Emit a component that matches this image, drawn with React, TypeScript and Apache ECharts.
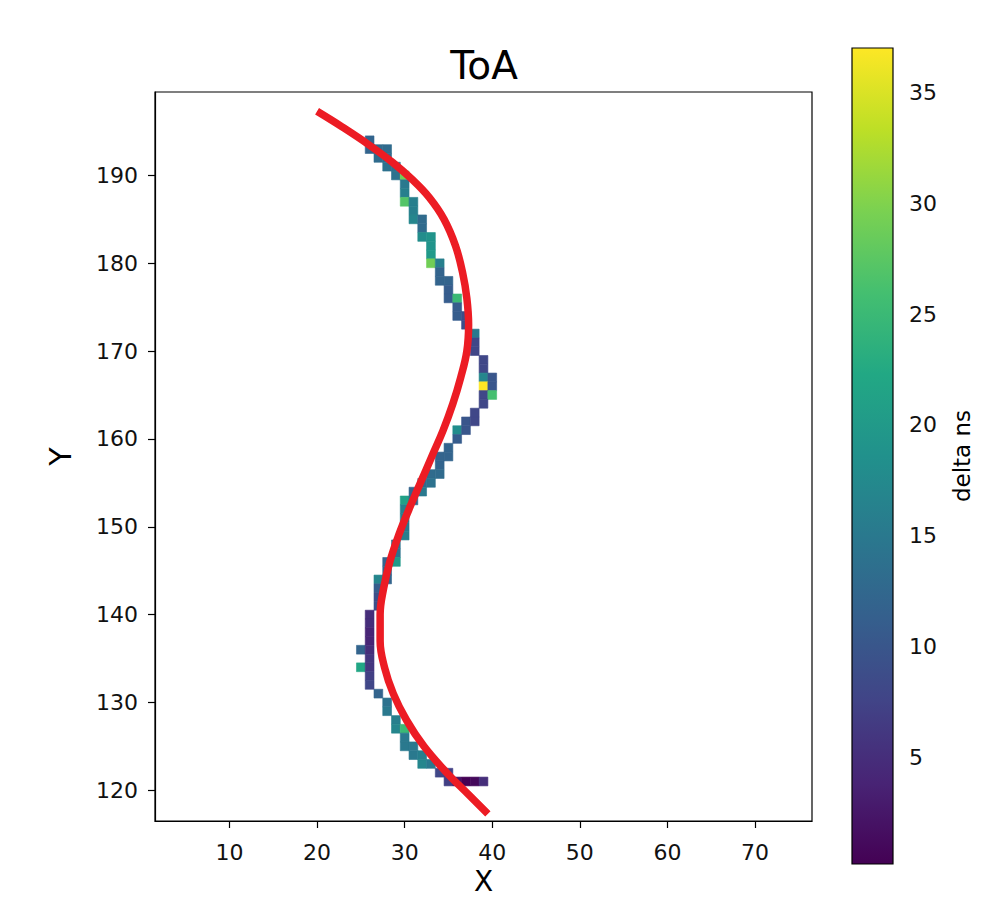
import React, { useEffect, useRef } from 'react';
import * as echarts from 'echarts';

// Pixel cells (column x, row y, delta ns)
const cellCol = [
  26, 26, 27, 28, 27, 28, 28, 29, 29, 30, 30, 30, 30, 31, 31, 31, 32, 32, 32, 33,
  33, 33, 33, 34, 34, 34, 35, 35, 35, 36, 36, 36, 37, 37, 38, 38, 38, 39, 39, 39,
  40, 39, 40, 39, 40, 39, 38, 37, 38, 36, 37, 36, 35, 34, 35, 34, 33, 34, 32, 33,
  31, 32, 30, 31, 30, 30, 30, 30, 29, 29, 28, 29, 28, 27, 28, 27, 27, 27, 26, 26,
  26, 26, 25, 26, 26, 25, 26, 26, 26, 27, 28, 28, 29, 29, 30, 30, 30, 31, 31, 32,
  32, 33, 34, 35, 35, 36, 37, 38, 39,
];
const cellRow = [
  194, 193, 193, 193, 192, 192, 191, 191, 190, 190, 189, 188, 187, 187, 186, 185, 185, 184, 183, 183,
  182, 181, 180, 180, 179, 178, 178, 177, 176, 176, 175, 174, 174, 173, 172, 171, 170, 169, 168, 167,
  167, 166, 166, 165, 165, 164, 163, 162, 162, 161, 161, 160, 159, 158, 158, 157, 156, 156, 155, 155,
  154, 154, 153, 153, 152, 151, 150, 149, 148, 147, 146, 146, 145, 144, 144, 143, 142, 141, 140, 139,
  138, 137, 136, 136, 135, 134, 134, 133, 132, 131, 130, 129, 128, 127, 127, 126, 125, 125, 124, 124,
  123, 123, 122, 122, 121, 121, 121, 121, 121,
];
const cellDelta = [
  12, 12, 13, 13, 13, 13, 14, 14, 14, 29, 15, 16, 27, 16, 16, 17, 13, 13, 18, 19,
  19, 20, 29, 16, 12, 12, 12, 11, 11, 25, 11, 11, 9, 9, 15, 8, 8, 8, 8, 17,
  10, 37, 10, 8, 26, 8, 8, 10, 8, 18, 10, 11, 12, 12, 12, 12, 13, 13, 13, 14,
  12, 15, 21, 12, 16, 16, 15, 16, 14, 14, 12, 20, 12, 17, 12, 11, 9, 9, 5, 5,
  4, 4, 12, 5, 6, 22, 6, 7, 8, 12, 14, 15, 16, 17, 25, 15, 15, 15, 15, 16,
  17, 15, 8, 7, 7, 2, 0.2, 1, 5,
];

// Red fitted curve, read point by point
const curveX = [
  20.0, 22.9, 25.9, 28.6, 30.9, 32.8, 34.5, 35.8, 36.6, 37.1, 37.3, 37.1, 36.4, 35.5, 34.4, 33.1,
  31.8, 30.5, 29.3, 28.3, 27.6, 27.2, 27.2, 27.7, 28.7, 30.2, 32.2, 34.8, 37.3, 39.5,
];
const curveY = [
  197.3, 195.5, 193.5, 191.5, 189.5, 187.5, 185.0, 182.0, 179.0, 176.0, 173.0, 170.0, 167.0, 164.0, 161.0, 158.0,
  155.0, 152.0, 149.0, 146.0, 143.0, 140.0, 137.0, 134.0, 131.0, 128.0, 125.0, 122.0, 119.5, 117.3,
];

const xTicks = [10, 20, 30, 40, 50, 60, 70];
const yTicks = [120, 130, 140, 150, 160, 170, 180, 190];
const cbTicks = [5, 10, 15, 20, 25, 30, 35];
const xRange = [1.5, 76.5];
const yRange = [116.5, 199.5];
const deltaRange = [0.2, 37];

const viridis = [
  '#440154', '#482475', '#414487', '#355f8d', '#2a788e', '#21918c',
  '#22a884', '#44bf70', '#7ad151', '#bddf26', '#fde725',
];

export default function App() {
  const ref = useRef<HTMLDivElement>(null);
  useEffect(() => {
    document.body.style.margin = '0';
    const chart = echarts.init(ref.current as HTMLDivElement, null, { renderer: 'svg' });
    const font = 'DejaVu Sans';
    const cells = cellCol.map((c, i) => [c, cellRow[i], cellDelta[i]]);
    const curve = curveX.map((x, i) => [x, curveY[i]]);
    const stops = viridis.map((c, i) => ({ offset: i / (viridis.length - 1), color: c }));
    const tickStyle = { color: '#000', width: 1.2 };
    chart.setOption({
      animation: false,
      backgroundColor: '#ffffff',
      textStyle: { fontFamily: font },
      graphic: [
        {
          type: 'text',
          x: 484,
          y: 65,
          style: {
            text: 'ToA',
            fontSize: 39,
            fontFamily: font,
            fill: '#000',
            align: 'center',
            verticalAlign: 'middle',
          },
        },
      ],
      grid: [
        {
          left: 155, top: 92, width: 657, height: 729,
          outerBoundsMode: 'none', containLabel: false,
          show: true, borderColor: '#000', borderWidth: 1.2, backgroundColor: 'rgba(0,0,0,0)',
        },
        { left: 852, top: 48, width: 41, height: 816, outerBoundsMode: 'none', containLabel: false },
      ],
      xAxis: [
        {
          type: 'value',
          gridIndex: 0,
          min: xRange[0],
          max: xRange[1],
          name: 'X',
          nameLocation: 'middle',
          nameGap: 45,
          nameTextStyle: { fontSize: 28, color: '#000', fontFamily: font },
          axisLine: { show: true, lineStyle: tickStyle },
          splitLine: { show: false },
          axisTick: { show: true, length: 7, lineStyle: tickStyle, customValues: xTicks },
          axisLabel: { customValues: xTicks, fontSize: 22, color: '#111', margin: 20, fontFamily: font },
        },
        { type: 'value', gridIndex: 1, min: 0, max: 1, show: false },
      ],
      yAxis: [
        {
          type: 'value',
          gridIndex: 0,
          min: yRange[0],
          max: yRange[1],
          name: 'Y',
          nameLocation: 'middle',
          nameRotate: 90,
          nameGap: 80,
          nameTextStyle: { fontSize: 30, color: '#000', fontFamily: font },
          axisLine: { show: true, lineStyle: tickStyle },
          splitLine: { show: false },
          axisTick: { show: true, length: 7, lineStyle: tickStyle, customValues: yTicks },
          axisLabel: { customValues: yTicks, fontSize: 22, color: '#111', margin: 17, fontFamily: font },
        },
        {
          type: 'value',
          gridIndex: 1,
          position: 'right',
          min: deltaRange[0],
          max: deltaRange[1],
          name: 'delta ns',
          nameLocation: 'middle',
          nameRotate: 90,
          nameGap: 57,
          nameTextStyle: { fontSize: 23, color: '#000', fontFamily: font },
          axisLine: { show: false },
          splitLine: { show: false },
          axisTick: { show: true, length: 7, lineStyle: tickStyle, customValues: cbTicks },
          axisLabel: { customValues: cbTicks, fontSize: 22, color: '#111', margin: 16, fontFamily: font },
        },
      ],
      visualMap: {
        type: 'continuous',
        show: false,
        min: deltaRange[0],
        max: deltaRange[1],
        dimension: 2,
        seriesIndex: 0,
        inRange: { color: viridis },
      },
      series: [
        {
          type: 'custom',
          xAxisIndex: 0,
          yAxisIndex: 0,
          data: cells,
          encode: { x: 0, y: 1 },
          renderItem: (params: any, api: any) => {
            const x = api.value(0);
            const y = api.value(1);
            const p0 = api.coord([x - 0.5, y + 0.5]);
            const p1 = api.coord([x + 0.5, y - 0.5]);
            const color = api.visual('color');
            return {
              type: 'rect',
              shape: { x: p0[0], y: p0[1], width: p1[0] - p0[0], height: p1[1] - p0[1] },
              style: { fill: color, stroke: color, lineWidth: 0.6 },
            };
          },
          z: 2,
        },
        {
          type: 'line',
          xAxisIndex: 0,
          yAxisIndex: 0,
          data: curve,
          smooth: 0.4,
          showSymbol: false,
          symbol: 'none',
          lineStyle: { color: '#ec1c24', width: 7.5 },
          z: 5,
        },
        {
          type: 'custom',
          xAxisIndex: 1,
          yAxisIndex: 1,
          silent: true,
          data: [[0.5, deltaRange[0]]],
          renderItem: (params: any) => {
            const cs = params.coordSys;
            return {
              type: 'rect',
              shape: { x: cs.x, y: cs.y, width: cs.width, height: cs.height },
              style: {
                fill: new echarts.graphic.LinearGradient(0, 1, 0, 0, stops),
                stroke: '#000',
                lineWidth: 1.2,
              },
            };
          },
        },
      ],
    });
    return () => chart.dispose();
  }, []);
  return (
    <div
      ref={ref}
      style={{ position: 'absolute', left: 0, top: 0, width: 989, height: 897 }}
    />
  );
}
